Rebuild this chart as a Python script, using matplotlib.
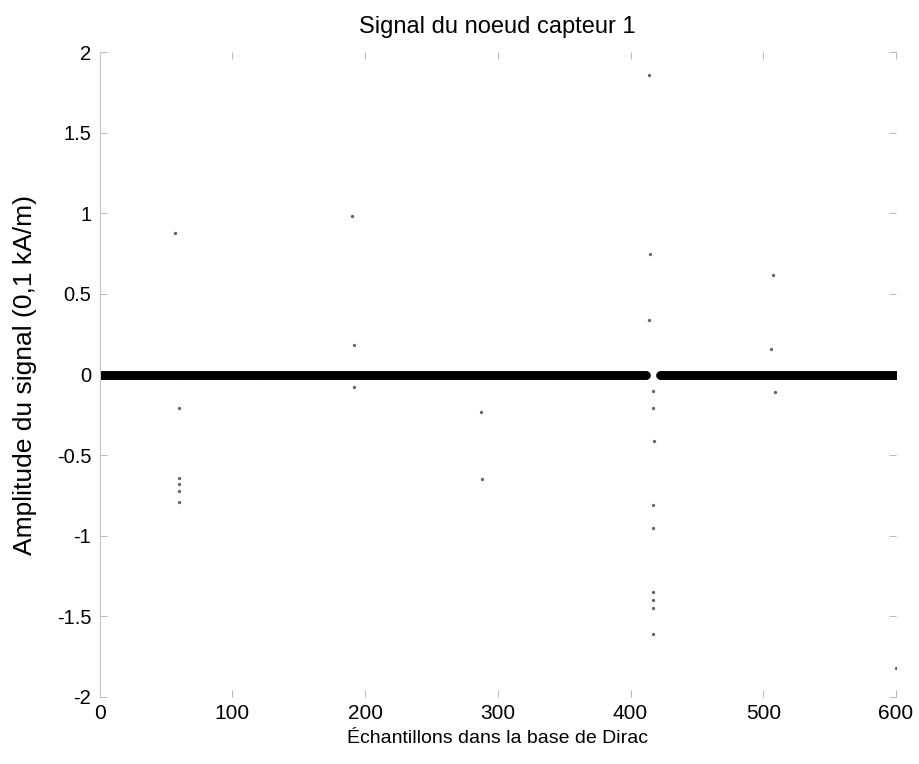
import numpy as np
import matplotlib
matplotlib.use("Agg")
import matplotlib.pyplot as plt

plt.rcParams['font.family'] = ['Liberation Sans', 'DejaVu Sans']

# echantillons 1..600, valeur ~0 sauf les pics (trou autour de 413-421)
n_ech = 600
trou = (413, 421)

# pics (indice, amplitude)
ech_pics = [57, 60, 60, 60, 60, 60, 190, 192, 192, 287, 288,
            414, 415, 414, 417, 417, 418, 417, 417, 417, 417, 417, 417,
            507, 506, 509, 600]
val_pics = [0.88, -0.21, -0.64, -0.68, -0.72, -0.79, 0.98, 0.18, -0.08, -0.23, -0.65,
            1.86, 0.75, 0.34, -0.10, -0.21, -0.41, -0.81, -0.95, -1.35, -1.40, -1.45, -1.61,
            0.62, 0.16, -0.11, -1.82]

xticks = [0, 100, 200, 300, 400, 500, 600]
yticks = [-2, -1.5, -1, -0.5, 0, 0.5, 1, 1.5, 2]
ylabels = ['-2', '-1.5', '-1', '-0.5', '0', '0.5', '1', '1.5', '2']

ech = np.arange(1, n_ech + 1)
garde = (ech < trou[0]) | (ech > trou[1])
ech_zero = ech[garde]
val_zero = np.zeros(len(ech_zero))

fig = plt.figure(figsize=(9.2, 7.64), dpi=100)
ax = fig.add_axes([0.1082, 0.0877, 0.8657, 0.8442])

ax.plot(ech_zero, val_zero, 'o', color='black', markersize=6.2, markeredgewidth=0)
ax.plot(ech_pics, val_pics, 'o', color='#666666', markersize=2.4, markeredgewidth=0)

ax.set_xlim(0, 600)
ax.set_ylim(-2, 2)
ax.set_xticks(xticks)
ax.set_xticklabels([str(t) for t in xticks])
ax.set_yticks(yticks)
ax.set_yticklabels(ylabels)

for s in ['top', 'right', 'bottom']:
    ax.spines[s].set_visible(False)
ax.spines['left'].set_color('#c4c4c4')
ax.spines['left'].set_linewidth(0.8)

ax.tick_params(direction='in', length=5, width=0.7, color='#b8b8b8',
               top=True, right=True)
ax.tick_params(axis='y', pad=6, labelsize=14.5)
ax.tick_params(axis='x', pad=5, labelsize=15)

ax.set_title('Signal du noeud capteur 1', fontsize=17, pad=14)
ax.set_xlabel('Échantillons dans la base de Dirac', fontsize=14, labelpad=5)
ax.set_ylabel('Amplitude du signal (0,1 kA/m)', fontsize=19, labelpad=14)

fig.savefig('out.png', dpi=100)
